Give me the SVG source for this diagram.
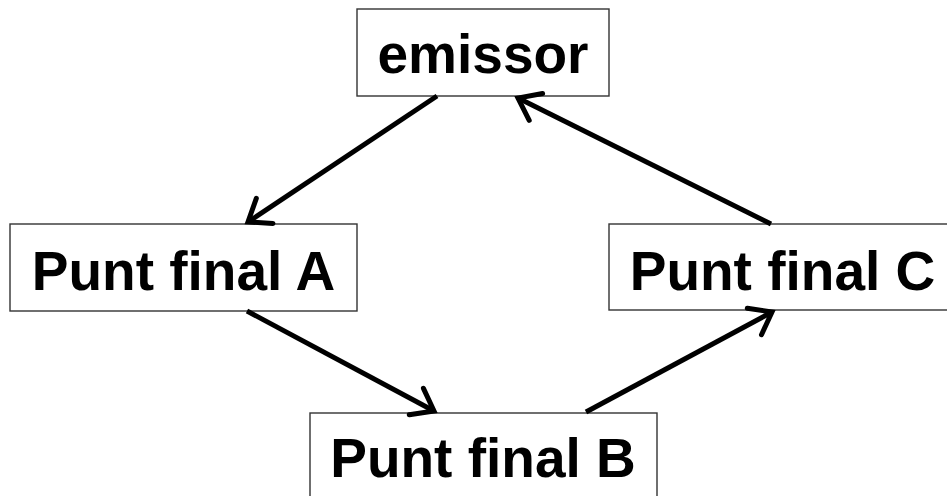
<svg xmlns="http://www.w3.org/2000/svg" width="947" height="496" viewBox="0 0 947 496">
<style>
.box{fill:#fff;stroke:#333;stroke-width:1.4}
.lbl{font-family:"Liberation Sans",Arial,sans-serif;font-weight:bold;font-size:55px;fill:#000;text-anchor:middle}
.con{stroke:#000;stroke-width:5;fill:none;marker-end:url(#ah)}
</style>
<defs>
<marker id="ah" markerUnits="userSpaceOnUse" markerWidth="60" markerHeight="60" viewBox="-30 -30 60 60" refX="0" refY="0" orient="auto" overflow="visible">
<path d="M-20,-15 L0,0 L-20,15" fill="none" stroke="#000" stroke-width="5" stroke-linecap="round" stroke-linejoin="miter"/>
</marker>
</defs>
<rect width="947" height="496" fill="#fff"/>
<g id="emissor"><rect class="box" x="357" y="9" width="252" height="87"/><text class="lbl" x="483" y="73">emissor</text></g>
<g id="puntA"><rect class="box" x="10" y="224" width="347" height="87"/><text class="lbl" x="183.5" y="290">Punt final A</text></g>
<g id="puntC"><rect class="box" x="609" y="224" width="347" height="86"/><text class="lbl" x="782.5" y="290">Punt final C</text></g>
<g id="puntB"><rect class="box" x="310" y="413" width="347" height="100"/><text class="lbl" x="483" y="477">Punt final B</text></g>
<g id="connectors">
<line class="con" x1="437" y1="96" x2="248" y2="222"/>
<line class="con" x1="247" y1="311" x2="434" y2="411"/>
<line class="con" x1="586" y1="412" x2="772" y2="312"/>
<line class="con" x1="771" y1="224" x2="518" y2="98"/>
</g>
</svg>
